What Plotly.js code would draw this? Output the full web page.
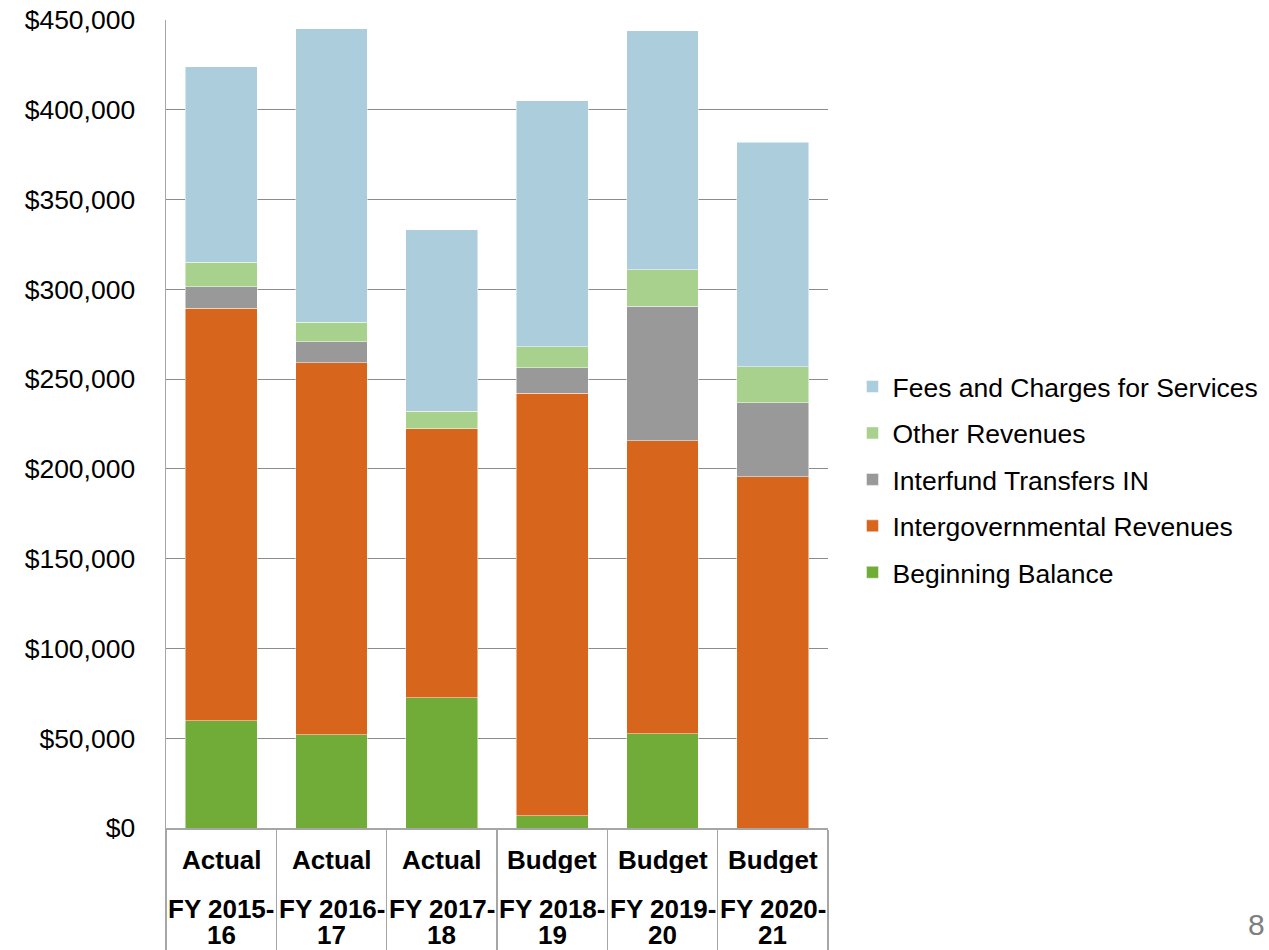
<!DOCTYPE html>
<html>
<head>
<meta charset="utf-8">
<script src="https://cdn.plot.ly/plotly-3.0.1.min.js"></script>
<style>
html,body{margin:0;padding:0;background:#fff;}
#chart{width:1269px;height:950px;}
</style>
</head>
<body>
<div id="chart"></div>
<script>
const categories = ["c1","c2","c3","c4","c5","c6"];
const labelTop = ["Actual","Actual","Actual","Budget","Budget","Budget"];
const labelMiddle = ["FY 2015-","FY 2016-","FY 2017-","FY 2018-","FY 2019-","FY 2020-"];
const labelBottom = ["16","17","18","19","20","21"];

const beginningBalance = [59700, 52000, 72500, 6700, 52400, 0];
const intergovernmental = [229700, 207100, 149800, 235500, 163400, 195500];
const interfundTransfers = [12100, 11700, 0, 14100, 74700, 41300];
const otherRevenues = [13700, 10800, 9700, 11700, 20400, 20000];
const feesCharges = [108800, 163600, 101200, 137000, 133000, 125200];

const seriesNames = ["Beginning Balance","Intergovernmental Revenues","Interfund Transfers IN","Other Revenues","Fees and Charges for Services"];
const seriesColors = ["#71ab38","#d8651c","#99999a","#a9d18e","#accddc"];
const seriesValues = [beginningBalance, intergovernmental, interfundTransfers, otherRevenues, feesCharges];

const FONT = '"Liberation Sans", Arial, sans-serif';

const traces = seriesValues.map((vals, i) => ({
  type: 'bar',
  x: categories,
  y: vals,
  name: seriesNames[i],
  legendgroup: 'g' + i,
  legendrank: 1000 - i,
  marker: {color: seriesColors[i], line: {color: 'rgba(255,255,255,0.6)', width: 0.8}},
  hoverinfo: 'y+name'
}));

const annotations = [];
const rows = [[labelTop, -0.040, 26], [labelMiddle, -0.1002, 26], [labelBottom, -0.1322, 24]];
rows.forEach(([labels, yPos, h]) => {
  categories.forEach((c, i) => {
    annotations.push({
      x: c, xref: 'x', y: yPos, yref: 'paper',
      text: '<b>' + labels[i] + '</b>', showarrow: false,
      xanchor: 'center', yanchor: 'middle',
      height: h, valign: 'middle', borderpad: 0,
      font: {family: FONT, size: 26, color: '#000'}
    });
  });
});
annotations.push({
  x: 1.0, xref: 'paper', xanchor: 'right',
  y: -0.120, yref: 'paper', yanchor: 'middle',
  text: '8', showarrow: false,
  font: {family: FONT, size: 30, color: '#7f7f7f'},
  xshift: 439
});

const layout = {
  width: 1269, height: 950,
  margin: {l: 166, r: 440.5, t: 20, b: 122, pad: 0, autoexpand: false},
  paper_bgcolor: '#fff', plot_bgcolor: '#fff',
  barmode: 'stack',
  bargap: 0.35,
  font: {family: FONT, size: 26, color: '#000'},
  showlegend: true,
  legend: {
    x: 1.037, xanchor: 'left', y: 0.431, yanchor: 'middle',
    traceorder: 'grouped', tracegroupgap: 9,
    font: {family: FONT, size: 26.5, color: '#000'},
    bgcolor: 'rgba(0,0,0,0)', borderwidth: 0
  },
  xaxis: {
    type: 'category',
    showticklabels: false,
    tickson: 'boundaries',
    ticks: 'outside', ticklen: 122, tickwidth: 1.5, tickcolor: '#a6a6a6',
    showgrid: false, zeroline: false,
    showline: true, linecolor: '#a6a6a6', linewidth: 1.5,
    fixedrange: true
  },
  yaxis: {
    range: [0, 450000], dtick: 50000, tick0: 0,
    tickprefix: '$', tickformat: ',d',
    ticks: '', ticklabelstandoff: 24,
    showgrid: true, gridcolor: '#8c8c8c', gridwidth: 1,
    zeroline: false,
    showline: true, linecolor: '#a6a6a6', linewidth: 1.5,
    tickfont: {family: FONT, size: 26.5, color: '#000'},
    fixedrange: true
  },
  annotations: annotations
};

Plotly.newPlot('chart', traces, layout, {displayModeBar: false, staticPlot: true});
</script>
</body>
</html>
